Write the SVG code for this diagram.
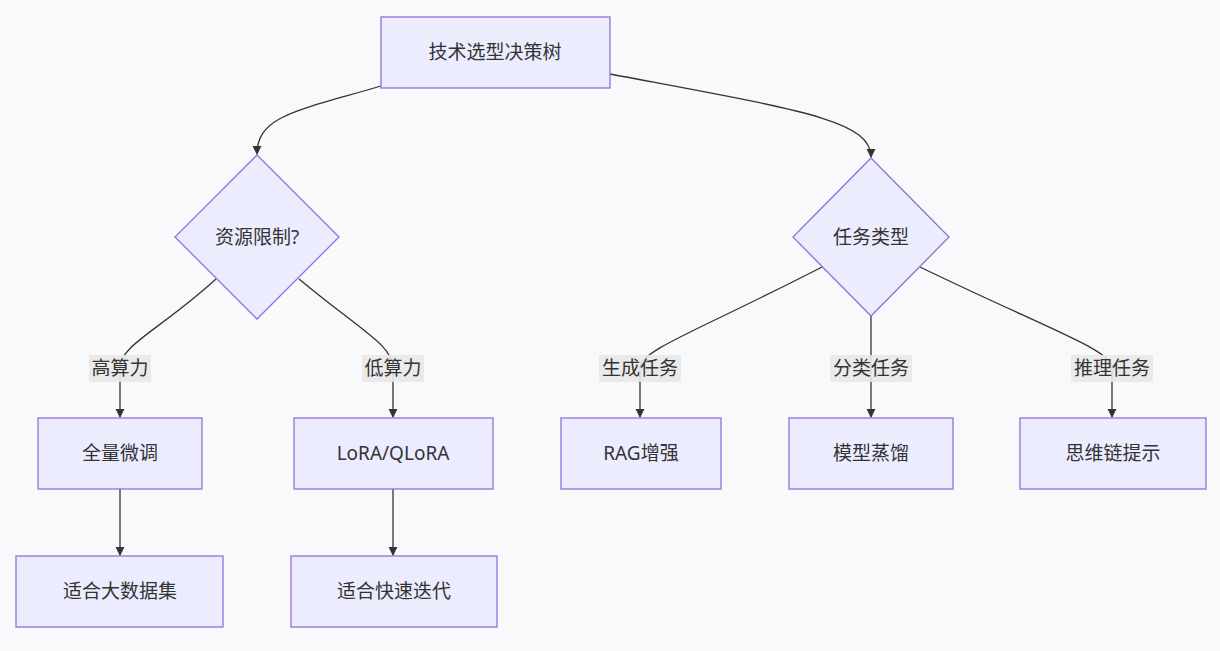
<svg xmlns="http://www.w3.org/2000/svg" width="1220" height="651" viewBox="0 0 1220 651">
<style>
.n{fill:#ECECFF;stroke:#9370DB;stroke-width:1.3}
.t{font-family:"Noto Sans","Noto Sans CJK SC",sans-serif;font-size:19px;fill:#333;text-anchor:middle;dominant-baseline:central}
.e{fill:none;stroke:#333;stroke-width:1.3;marker-end:url(#a)}
.lb{fill:#e8e8e8;opacity:0.9}
</style>
<defs><marker id="a" viewBox="0 0 10 10" refX="9" refY="5" markerWidth="7" markerHeight="7" orient="auto"><path d="M0,0L10,5L0,10z" fill="#333"/></marker></defs>
<rect width="1220" height="651" fill="#f8f9fa"/>
<g id="edges">
<path class="e" d="M381,86 C300,110 257,115 257,154"/>
<path class="e" d="M610,74 C800,110 871,120 871,157"/>
<path class="e" d="M216,279 C160,330 120,345 120,368 L120,417"/>
<path class="e" d="M299,279 C360,330 393,345 393,368 L393,417"/>
<path class="e" d="M822,267 C700,330 640,350 640,368 L640,417"/>
<path class="e" d="M871,316 L871,417"/>
<path class="e" d="M920,267 C1050,330 1112,350 1112,368 L1112,417"/>
<path class="e" d="M120,489 L120,555"/>
<path class="e" d="M393,489 L393,555"/>
</g>
<g id="labels">
<rect class="lb" x="89" y="355" width="62" height="27"/><text class="t" x="120" y="368">高算力</text>
<rect class="lb" x="362" y="355" width="62" height="27"/><text class="t" x="393" y="368">低算力</text>
<rect class="lb" x="599" y="355" width="82" height="27"/><text class="t" x="640" y="368">生成任务</text>
<rect class="lb" x="830" y="355" width="82" height="27"/><text class="t" x="871" y="368">分类任务</text>
<rect class="lb" x="1071" y="355" width="82" height="27"/><text class="t" x="1112" y="368">推理任务</text>
</g>
<g id="root"><rect class="n" x="381" y="17" width="229" height="71"/><text class="t" x="495" y="52">技术选型决策树</text></g>
<g id="d1"><polygon class="n" points="257,155 339,237 257,319 175,237"/><text class="t" x="257" y="237">资源限制?</text></g>
<g id="d2"><polygon class="n" points="871,158 949,237 871,316 793,237"/><text class="t" x="871" y="237">任务类型</text></g>
<g id="n1"><rect class="n" x="38" y="418" width="164" height="71"/><text class="t" x="120" y="453">全量微调</text></g>
<g id="n2"><rect class="n" x="294" y="418" width="199" height="71"/><text class="t" x="393" y="453">LoRA/QLoRA</text></g>
<g id="n3"><rect class="n" x="561" y="418" width="160" height="71"/><text class="t" x="641" y="453">RAG增强</text></g>
<g id="n4"><rect class="n" x="789" y="418" width="164" height="71"/><text class="t" x="871" y="453">模型蒸馏</text></g>
<g id="n5"><rect class="n" x="1020" y="418" width="186" height="71"/><text class="t" x="1113" y="453">思维链提示</text></g>
<g id="n6"><rect class="n" x="16" y="556" width="207" height="71"/><text class="t" x="120" y="591">适合大数据集</text></g>
<g id="n7"><rect class="n" x="291" y="556" width="206" height="71"/><text class="t" x="394" y="591">适合快速迭代</text></g>
</svg>
